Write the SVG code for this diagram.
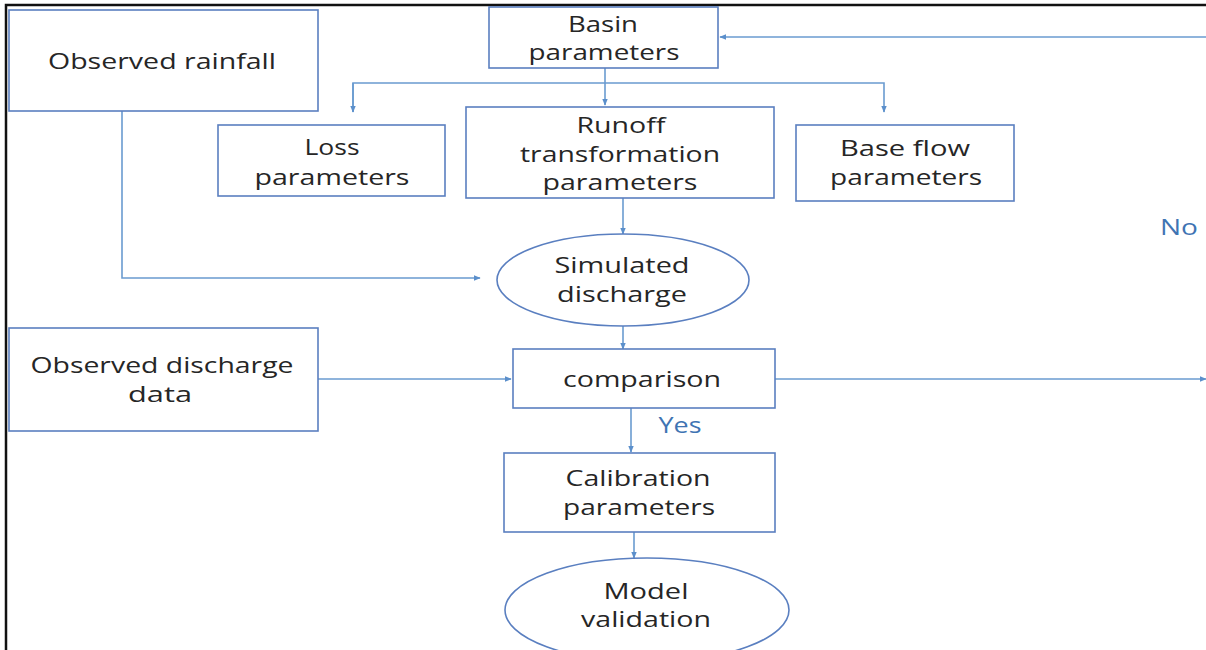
<svg xmlns="http://www.w3.org/2000/svg" width="1206" height="650" viewBox="0 0 1206 650">
<style>
.box{fill:#fff;stroke:#5a7fc0;stroke-width:1.6}
.t{font-family:"Open Sans","Noto Sans",sans-serif;font-size:22px;fill:#262626;text-anchor:middle}
.lbl{font-family:"Open Sans","Noto Sans",sans-serif;font-size:21px;fill:#3f74b3;text-anchor:middle}
.c{fill:none;stroke:#6a9bd0;stroke-width:1.6}
</style>
<defs>
<marker id="ah" viewBox="0 0 10 10" refX="9" refY="5" markerWidth="7" markerHeight="7" orient="auto" markerUnits="userSpaceOnUse">
<path d="M0,1 L10,5 L0,9 z" fill="#5b8fcb"/>
</marker>
</defs>
<rect x="0" y="0" width="1206" height="650" fill="#fff"/>
<path d="M6,650 V5 H1206" fill="none" stroke="#111" stroke-width="2.5"/>
<g id="connectors">
<path class="c" d="M1206,37 H720" marker-end="url(#ah)"/>
<path class="c" d="M605,68 V105" marker-end="url(#ah)"/>
<path class="c" d="M353,112 V83 H884 V112" marker-end="url(#ah)"/>
<path class="c" d="M353,83 V112" marker-end="url(#ah)"/>
<path class="c" d="M623,198 V234" marker-end="url(#ah)"/>
<path class="c" d="M122,111 V278 H480" marker-end="url(#ah)"/>
<path class="c" d="M623,326 V349" marker-end="url(#ah)"/>
<path class="c" d="M318,379 H511" marker-end="url(#ah)"/>
<path class="c" d="M775,379 H1206" marker-end="url(#ah)"/>
<path class="c" d="M631,408 V452" marker-end="url(#ah)"/>
<path class="c" d="M634,532 V558" marker-end="url(#ah)"/>
<text class="lbl" x="1179" y="235" textLength="38" lengthAdjust="spacingAndGlyphs">No</text>
<text class="lbl" x="680" y="433" textLength="43" lengthAdjust="spacingAndGlyphs">Yes</text>
</g>
<g id="observed-rainfall">
<rect class="box" x="9" y="10" width="309" height="101"/>
<text class="t" x="162" y="69" textLength="228" lengthAdjust="spacingAndGlyphs">Observed rainfall</text>
</g>
<g id="basin-parameters">
<rect class="box" x="489" y="7" width="229" height="61"/>
<text class="t" x="603" y="32" textLength="70" lengthAdjust="spacingAndGlyphs">Basin</text>
<text class="t" x="604" y="60" textLength="151" lengthAdjust="spacingAndGlyphs">parameters</text>
</g>
<g id="loss-parameters">
<rect class="box" x="218" y="125" width="227" height="71"/>
<text class="t" x="332" y="155" textLength="55" lengthAdjust="spacingAndGlyphs">Loss</text>
<text class="t" x="332" y="185" textLength="155" lengthAdjust="spacingAndGlyphs">parameters</text>
</g>
<g id="runoff-parameters">
<rect class="box" x="466" y="107" width="308" height="91"/>
<text class="t" x="621" y="133" textLength="89" lengthAdjust="spacingAndGlyphs">Runoff</text>
<text class="t" x="620" y="162" textLength="200" lengthAdjust="spacingAndGlyphs">transformation</text>
<text class="t" x="620" y="190" textLength="155" lengthAdjust="spacingAndGlyphs">parameters</text>
</g>
<g id="baseflow-parameters">
<rect class="box" x="796" y="125" width="218" height="76"/>
<text class="t" x="905" y="156" textLength="130" lengthAdjust="spacingAndGlyphs">Base flow</text>
<text class="t" x="906" y="185" textLength="152" lengthAdjust="spacingAndGlyphs">parameters</text>
</g>
<g id="simulated-discharge">
<ellipse class="box" cx="623" cy="280" rx="126" ry="46"/>
<text class="t" x="622" y="273" textLength="135" lengthAdjust="spacingAndGlyphs">Simulated</text>
<text class="t" x="622" y="302" textLength="130" lengthAdjust="spacingAndGlyphs">discharge</text>
</g>
<g id="observed-discharge">
<rect class="box" x="9" y="328" width="309" height="103"/>
<text class="t" x="162" y="373" textLength="263" lengthAdjust="spacingAndGlyphs">Observed discharge</text>
<text class="t" x="160" y="402" textLength="64" lengthAdjust="spacingAndGlyphs">data</text>
</g>
<g id="comparison">
<rect class="box" x="513" y="349" width="262" height="59"/>
<text class="t" x="642" y="387" textLength="158" lengthAdjust="spacingAndGlyphs">comparison</text>
</g>
<g id="calibration-parameters">
<rect class="box" x="504" y="453" width="271" height="79"/>
<text class="t" x="638" y="486" textLength="145" lengthAdjust="spacingAndGlyphs">Calibration</text>
<text class="t" x="639" y="515" textLength="152" lengthAdjust="spacingAndGlyphs">parameters</text>
</g>
<g id="model-validation">
<ellipse class="box" cx="647" cy="610" rx="142" ry="52"/>
<text class="t" x="646" y="599" textLength="85" lengthAdjust="spacingAndGlyphs">Model</text>
<text class="t" x="646" y="627" textLength="130" lengthAdjust="spacingAndGlyphs">validation</text>
</g>
</svg>
